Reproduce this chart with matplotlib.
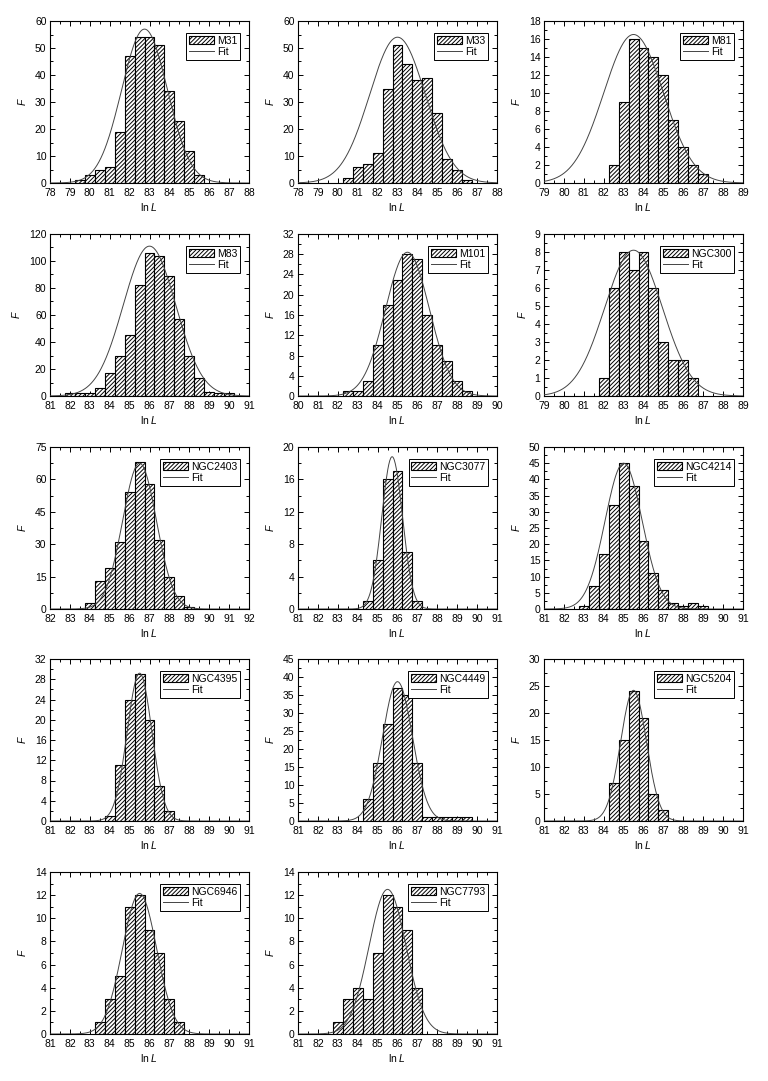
import matplotlib.pyplot as plt
import matplotlib.ticker as mticker
import numpy as np

plt.rcParams['font.family'] = ['Liberation Sans', 'DejaVu Sans']
plt.rcParams['mathtext.fontset'] = 'custom'
plt.rcParams['mathtext.rm'] = 'Liberation Sans'
plt.rcParams['mathtext.it'] = 'Liberation Sans:italic'
plt.rcParams['hatch.linewidth'] = 0.7
plt.rcParams['hatch.color'] = '#222222'

# galaxy names, in panel order
NAMES = ['M31', 'M33', 'M81', 'M83', 'M101', 'NGC300', 'NGC2403', 'NGC3077',
         'NGC4214', 'NGC4395', 'NGC4449', 'NGC5204', 'NGC6946', 'NGC7793']

# x-axis ranges (ln L)
XRANGE = [(78, 88), (78, 88), (79, 89), (81, 91), (80, 90), (79, 89), (82, 92),
          (81, 91), (81, 91), (81, 91), (81, 91), (81, 91), (81, 91), (81, 91)]

# y-axis: (max, major step)
YAXIS = [(60, 10), (60, 10), (18, 2), (120, 20), (32, 4), (9, 1), (75, 15),
         (20, 4), (50, 5), (32, 4), (45, 5), (30, 5), (14, 2), (14, 2)]

# histogram bin centres and counts
m31_bins = [79.5, 80.0, 80.5, 81.0, 81.5, 82.0, 82.5, 83.0, 83.5, 84.0, 84.5, 85.0, 85.5]
m31_counts = [1, 3, 5, 6, 19, 47, 54, 54, 51, 34, 23, 12, 3]

m33_bins = [80.5, 81.0, 81.5, 82.0, 82.5, 83.0, 83.5, 84.0, 84.5, 85.0, 85.5, 86.0, 86.5]
m33_counts = [2, 6, 7, 11, 35, 51, 44, 38, 39, 26, 9, 5, 1]

m81_bins = [82.5, 83.0, 83.5, 84.0, 84.5, 85.0, 85.5, 86.0, 86.5, 87.0]
m81_counts = [2, 9, 16, 15, 14, 12, 7, 4, 2, 1]

m83_bins = [82.0, 82.5, 83.0, 83.5, 84.0, 84.5, 85.0, 85.5, 86.0, 86.5, 87.0, 87.5,
            88.0, 88.5, 89.0, 89.5, 90.0]
m83_counts = [2, 2, 2, 6, 17, 30, 45, 82, 106, 104, 89, 57, 30, 13, 3, 2, 2]

m101_bins = [82.5, 83.0, 83.5, 84.0, 84.5, 85.0, 85.5, 86.0, 86.5, 87.0, 87.5, 88.0, 88.5]
m101_counts = [1, 1, 3, 10, 18, 23, 28, 27, 16, 10, 7, 3, 1]

ngc300_bins = [82.0, 82.5, 83.0, 83.5, 84.0, 84.5, 85.0, 85.5, 86.0, 86.5]
ngc300_counts = [1, 6, 8, 7, 8, 6, 3, 2, 2, 1]

ngc2403_bins = [84.0, 84.5, 85.0, 85.5, 86.0, 86.5, 87.0, 87.5, 88.0, 88.5, 89.0]
ngc2403_counts = [3, 13, 19, 31, 54, 68, 58, 32, 15, 6, 1]

ngc3077_bins = [84.5, 85.0, 85.5, 86.0, 86.5, 87.0]
ngc3077_counts = [1, 6, 16, 17, 7, 1]

ngc4214_bins = [83.0, 83.5, 84.0, 84.5, 85.0, 85.5, 86.0, 86.5, 87.0, 87.5, 88.0, 88.5, 89.0]
ngc4214_counts = [1, 7, 17, 32, 45, 38, 21, 11, 6, 2, 1, 2, 1]

ngc4395_bins = [84.0, 84.5, 85.0, 85.5, 86.0, 86.5, 87.0]
ngc4395_counts = [1, 11, 24, 29, 20, 7, 2]

ngc4449_bins = [84.5, 85.0, 85.5, 86.0, 86.5, 87.0, 87.5, 88.0, 88.5, 89.0, 89.5]
ngc4449_counts = [6, 16, 27, 37, 35, 16, 1, 1, 1, 1, 1]

ngc5204_bins = [84.5, 85.0, 85.5, 86.0, 86.5, 87.0]
ngc5204_counts = [7, 15, 24, 19, 5, 2]

ngc6946_bins = [83.5, 84.0, 84.5, 85.0, 85.5, 86.0, 86.5, 87.0, 87.5]
ngc6946_counts = [1, 3, 5, 11, 12, 9, 7, 3, 1]

ngc7793_bins = [83.0, 83.5, 84.0, 84.5, 85.0, 85.5, 86.0, 86.5, 87.0]
ngc7793_counts = [1, 3, 4, 3, 7, 12, 11, 9, 4]

BINS = [m31_bins, m33_bins, m81_bins, m83_bins, m101_bins, ngc300_bins, ngc2403_bins,
        ngc3077_bins, ngc4214_bins, ngc4395_bins, ngc4449_bins, ngc5204_bins,
        ngc6946_bins, ngc7793_bins]
COUNTS = [m31_counts, m33_counts, m81_counts, m83_counts, m101_counts, ngc300_counts,
          ngc2403_counts, ngc3077_counts, ngc4214_counts, ngc4395_counts,
          ngc4449_counts, ngc5204_counts, ngc6946_counts, ngc7793_counts]

# Gaussian fit parameters: peak, centre, sigma
FIT_PEAK = [57, 54, 16.5, 111, 28.4, 8.1, 67.5, 18.8, 45, 29.2, 38.7, 24.2, 12.15, 12.5]
FIT_CENTER = [82.75, 83.0, 83.5, 86.0, 85.5, 83.5, 86.5, 85.73, 85.0, 85.5, 86.0, 85.5, 85.5, 85.5]
FIT_SIGMA = [1.15, 1.4, 1.5, 1.32, 1.1, 1.45, 0.85, 0.52, 0.93, 0.62, 0.75, 0.65, 0.86, 0.93]

BIN_WIDTH = 0.5

# layout in pixels of the 768x1081 figure
W, H = 768, 1081
COL_LEFT = [50, 298, 544]
ROW_TOP = [21, 234, 447, 659, 872]
AX_W, AX_H = 199, 162


def draw_panel(fig, i):
    row, col = divmod(i, 3)
    left = COL_LEFT[col] / W
    bottom = 1 - (ROW_TOP[row] + AX_H) / H
    ax = fig.add_axes([left, bottom, AX_W / W, AX_H / H])

    bars = ax.bar(BINS[i], COUNTS[i], width=BIN_WIDTH, facecolor='white',
                  edgecolor='black', linewidth=0.8, hatch='////////', zorder=2)

    x0, x1 = XRANGE[i]
    xs = np.linspace(x0, x1, 400)
    ys = FIT_PEAK[i] * np.exp(-(xs - FIT_CENTER[i]) ** 2 / (2 * FIT_SIGMA[i] ** 2))
    line, = ax.plot(xs, ys, color='#444444', linewidth=0.7, zorder=3)

    ymax, ystep = YAXIS[i]
    ax.set_xlim(x0, x1)
    ax.set_ylim(0, ymax)
    ax.xaxis.set_major_locator(mticker.MultipleLocator(1))
    ax.xaxis.set_minor_locator(mticker.MultipleLocator(0.5))
    ax.yaxis.set_major_locator(mticker.MultipleLocator(ystep))
    ax.yaxis.set_minor_locator(mticker.MultipleLocator(ystep / 2))
    ax.tick_params(which='both', direction='in', top=True, right=True, labelsize=7.5,
                   width=0.7)
    ax.tick_params(axis='x', pad=3.5)
    ax.tick_params(axis='y', pad=2.5)
    ax.tick_params(which='major', length=3.5)
    ax.tick_params(which='minor', length=2)
    for sp in ax.spines.values():
        sp.set_linewidth(0.8)

    ax.set_xlabel('ln $L$', fontsize=7.5, labelpad=2)
    ax.set_ylabel('$F$', fontsize=7.5, labelpad=5)

    leg = ax.legend([bars, line], [NAMES[i], 'Fit'], loc='upper right',
                    bbox_to_anchor=(1 - 9 / AX_W, 1 - 12 / AX_H),
                    borderaxespad=0, fontsize=7.5, fancybox=False, framealpha=1,
                    edgecolor='black', handlelength=2.4, handleheight=0.9,
                    handletextpad=0.3, borderpad=0.25, labelspacing=0.15)
    leg.get_frame().set_linewidth(0.7)


def main():
    fig = plt.figure(figsize=(W / 100, H / 100), dpi=100)
    for i in range(len(NAMES)):
        draw_panel(fig, i)
    fig.savefig('out.png', dpi=100)


if __name__ == '__main__':
    main()
